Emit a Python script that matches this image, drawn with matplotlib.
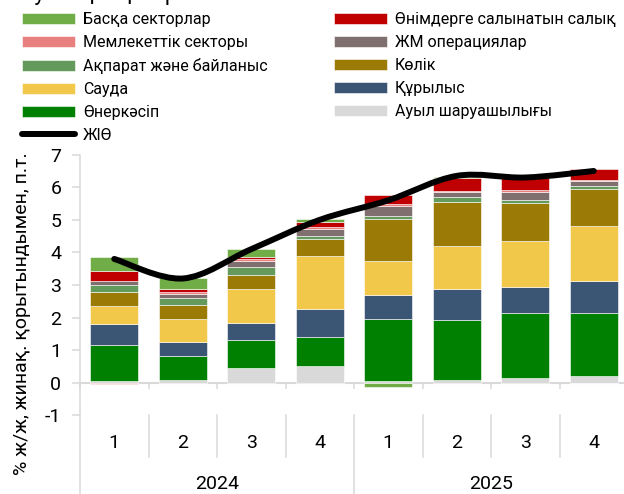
import numpy as np
import matplotlib
matplotlib.use('Agg')
import matplotlib.pyplot as plt
from matplotlib.path import Path
from matplotlib.patches import PathPatch
from matplotlib.lines import Line2D
import matplotlib.transforms as mtransforms

plt.rcParams['font.family'] = ['Roboto', 'DejaVu Sans']
plt.rcParams['axes.unicode_minus'] = False

# data: contributions to GDP growth, % y/y cumulative, p.p.
quarters = ['1', '2', '3', '4', '1', '2', '3', '4']
years = ['2024', '2025']

agri = [0.05, 0.07, 0.46, 0.52, 0.05, 0.07, 0.16, 0.21]
industry = [1.11, 0.76, 0.84, 0.88, 1.92, 1.87, 1.99, 1.94]
construction = [0.63, 0.43, 0.54, 0.85, 0.73, 0.93, 0.80, 0.96]
trade = [0.56, 0.70, 1.05, 1.64, 1.05, 1.33, 1.40, 1.70]
transport = [0.44, 0.43, 0.43, 0.52, 1.28, 1.36, 1.16, 1.15]
ict = [0.20, 0.22, 0.22, 0.10, 0.09, 0.13, 0.09, 0.09]
financial = [0.12, 0.12, 0.21, 0.21, 0.31, 0.16, 0.27, 0.15]
public = [-0.03, 0.04, 0.04, 0.05, 0.05, 0.04, 0.05, 0.03]
taxes = [0.33, 0.10, 0.07, 0.16, 0.27, 0.39, 0.36, 0.32]
other = [0.41, 0.34, 0.25, 0.09, -0.14, 0.05, 0.02, -0.02]
gdp = [3.8, 3.2, 4.1, 5.0, 5.6, 6.35, 6.3, 6.5]

series = [
    ('Ауыл шаруашылығы', agri, '#D9D9D9'),
    ('Өнеркәсіп', industry, '#008000'),
    ('Құрылыс', construction, '#3B5575'),
    ('Сауда', trade, '#F2C84B'),
    ('Көлік', transport, '#9C7A06'),
    ('Ақпарат және байланыс', ict, '#659A5D'),
    ('ЖМ операциялар', financial, '#7F706F'),
    ('Мемлекеттік секторы', public, '#E88080'),
    ('Өнімдерге салынатын салық', taxes, '#C00000'),
    ('Басқа секторлар', other, '#70AD47'),
]

fig = plt.figure(figsize=(6.24, 4.94), dpi=100)
ax = fig.add_axes([80 / 624, 1 - 415.3 / 494, 548 / 624, 260.6 / 494])

x = np.arange(len(quarters))
pos_base = np.zeros(len(x))
neg_base = np.zeros(len(x))
handles = {}
for name, vals, col in series:
    v = np.array(vals)
    b = np.where(v >= 0, pos_base, neg_base)
    bars = ax.bar(x, v, 0.7, bottom=b, color=col, edgecolor='white',
                  linewidth=0.4, label=name, zorder=2)
    handles[name] = bars
    pos_base = pos_base + np.where(v >= 0, v, 0)
    neg_base = neg_base + np.where(v < 0, v, 0)

# smoothed GDP line (Catmull-Rom style Bezier through the points)
pts = np.column_stack([x, gdp]).astype(float)
verts = [pts[0]]
codes = [Path.MOVETO]
for i in range(len(pts) - 1):
    p0 = pts[i - 1] if i > 0 else pts[i]
    p3 = pts[i + 2] if i + 2 < len(pts) else pts[i + 1]
    c1 = pts[i] + (pts[i + 1] - p0) / 6
    c2 = pts[i + 1] - (p3 - pts[i]) / 6
    verts += [c1, c2, pts[i + 1]]
    codes += [Path.CURVE4] * 3
ax.add_patch(PathPatch(Path(verts, codes), facecolor='none', edgecolor='black',
                       linewidth=4.3, capstyle='round', zorder=4))
gdp_handle = Line2D([], [], color='black', linewidth=4.3, solid_capstyle='round')

ax.set_xlim(-0.5, 7.5)
ax.set_ylim(-1, 7)
ax.set_yticks(range(-1, 8))
grey = '#D9D9D9'
for s in ['top', 'right']:
    ax.spines[s].set_visible(False)
ax.spines['left'].set_color(grey)
ax.spines['left'].set_linewidth(1.1)
ax.spines['bottom'].set_position(('data', 0))
ax.spines['bottom'].set_color(grey)
ax.spines['bottom'].set_linewidth(1.5)
ax.spines['bottom'].set_zorder(1)
ax.set_xticks(np.arange(-0.5, 8, 1))
ax.set_xticklabels([])
ax.tick_params(axis='x', length=4.5, width=1.1, color=grey, direction='out')
ax.tick_params(axis='y', length=5.5, width=1.1, color=grey, pad=8, labelsize=14)

# category axis labels below the plot
trans = mtransforms.blended_transform_factory(ax.transData, ax.transAxes)
for i, q in enumerate(quarters):
    ax.text(i, -0.106, q, transform=trans, ha='center', va='center', fontsize=14)
for j, yr in enumerate(years):
    ax.text(1.5 + 4 * j, -0.262, yr, transform=trans, ha='center', va='center', fontsize=14)
for b in [0.5, 1.5, 2.5, 4.5, 5.5, 6.5]:
    ax.plot([b, b], [0, -0.161], transform=trans, color=grey, lw=1.1, clip_on=False)
for b in [-0.5, 3.5, 7.5]:
    ax.plot([b, b], [0, -0.31], transform=trans, color=grey, lw=1.1, clip_on=False)

fig.text(22 / 624, 1 - 314 / 494, '% ж/ж, жинақ. қорытындымен, п.т.', rotation=90,
         ha='center', va='center', fontsize=14)

fig.text(10 / 624, 1 + 0.5 / 494, 'өсуіне қосқан үлесі', ha='left', va='baseline', fontsize=16)

order = ['Басқа секторлар', 'Мемлекеттік секторы', 'Ақпарат және байланыс', 'Сауда',
         'Өнеркәсіп', None, 'Өнімдерге салынатын салық', 'ЖМ операциялар', 'Көлік',
         'Құрылыс', 'Ауыл шаруашылығы']
leg_h = [handles[n] if n else gdp_handle for n in order]
leg_l = [n if n else 'ЖІӨ' for n in order]
fig.legend(leg_h, leg_l, ncol=2, loc='upper left', bbox_to_anchor=(22 / 624, 1 - 12 / 494),
           frameon=False, fontsize=11.5, borderpad=0, borderaxespad=0, handlelength=3.32,
           handleheight=0.7, handletextpad=0.5, labelspacing=0.5, columnspacing=4.13)

fig.savefig('out.png', dpi=100)
